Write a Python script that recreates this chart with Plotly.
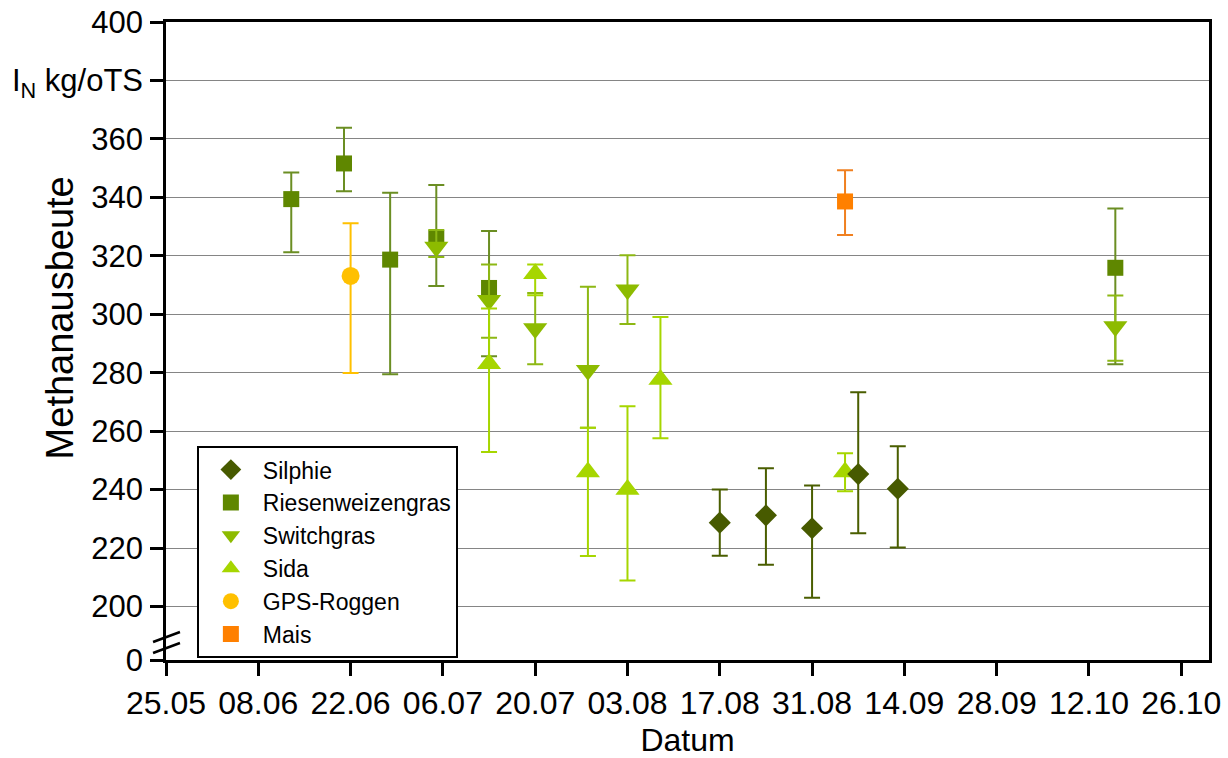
import plotly.graph_objects as go

# ---------------- data ----------------
YEAR = "2011"
BREAK_ZERO = 181.7  # axis position that carries the "0" label below the axis break

silphie_dates = ["08-17", "08-24", "08-31", "09-07", "09-13"]
silphie_val = [228.7, 231.2, 226.8, 245.3, 240.3]
silphie_hi = [240.0, 247.3, 241.4, 273.3, 254.8]
silphie_lo = [217.4, 214.3, 203.0, 225.1, 220.2]

riesen_dates = ["06-13", "06-21", "06-28", "07-05", "07-13", "10-16"]
riesen_val = [339.4, 351.6, 318.7, 326.0, 309.0, 315.9]
riesen_hi = [348.5, 363.8, 341.6, 344.2, 328.5, 336.2]
riesen_lo = [321.2, 342.1, 279.5, 309.7, 285.6, 282.9]

switch_dates = ["07-05", "07-13", "07-20", "07-28", "08-03", "10-16"]
switch_val = [323.0, 304.8, 295.1, 280.8, 308.4, 295.8]
switch_hi = [328.8, 317.0, 307.3, 309.4, 320.2, 306.4]
switch_lo = [319.6, 292.0, 282.9, 261.2, 296.7, 284.1]

sida_dates = ["07-13", "07-20", "07-28", "08-03", "08-08", "09-05"]
sida_val = [283.1, 313.9, 246.0, 240.0, 277.7, 246.0]
sida_hi = [302.0, 317.0, 261.2, 268.5, 299.1, 252.4]
sida_lo = [252.9, 306.5, 217.3, 208.9, 257.6, 239.4]

gps_dates = ["06-22"]
gps_val = [313.1]
gps_hi = [331.1]
gps_lo = [279.9]

mais_dates = ["09-05"]
mais_val = [338.6]
mais_hi = [349.3]
mais_lo = [327.1]

y_tick_vals = [BREAK_ZERO, 200, 220, 240, 260, 280, 300, 320, 340, 360, 380, 400]
y_tick_text = ["0", "200", "220", "240", "260", "280", "300", "320", "340", "360",
               "I<sub>N</sub> kg/oTS", "400"]

FONT = "Liberation Sans, Arial, sans-serif"


def d(lst):
    return [f"{YEAR}-{s}" for s in lst]


def trace(name, dates, val, hi, lo, symbol, size, color, ecolor, rank):
    return go.Scatter(
        x=d(dates), y=val, mode="markers", name=name, legendrank=rank,
        marker=dict(symbol=symbol, size=size, color=color, line=dict(width=0)),
        error_y=dict(type="data", symmetric=False,
                     array=[h - v for h, v in zip(hi, val)],
                     arrayminus=[v - l for v, l in zip(val, lo)],
                     color=ecolor, thickness=2, width=8),
    )


fig = go.Figure()
# drawing order (bottom -> top); legend order via legendrank
fig.add_trace(trace("Riesenweizengras", riesen_dates, riesen_val, riesen_hi, riesen_lo,
                    "square", 16, "#5F8700", "#6B8E23", 2))
fig.add_trace(trace("GPS-Roggen", gps_dates, gps_val, gps_hi, gps_lo,
                    "circle", 18, "#FFC000", "#FFC000", 5))
fig.add_trace(trace("Mais", mais_dates, mais_val, mais_hi, mais_lo,
                    "square", 16, "#FF8000", "#F08020", 6))
fig.add_trace(trace("Switchgras", switch_dates, switch_val, switch_hi, switch_lo,
                    "triangle-down", 21, "#8DBB00", "#8DB814", 3))
fig.add_trace(trace("Sida", sida_dates, sida_val, sida_hi, sida_lo,
                    "triangle-up", 21, "#A6D600", "#A6D600", 4))
fig.add_trace(trace("Silphie", silphie_dates, silphie_val, silphie_hi, silphie_lo,
                    "diamond", 17, "#475A00", "#4A5E00", 1))

fig.update_layout(
    width=1228, height=758,
    margin=dict(l=166, r=19, t=22, b=98, autoexpand=False),
    paper_bgcolor="white", plot_bgcolor="white",
    font=dict(family=FONT, color="black"),
    showlegend=True,
    legend=dict(
        x=0.0296, y=0.003, xanchor="left", yanchor="bottom",
        bgcolor="white", bordercolor="black", borderwidth=2,
        font=dict(size=23, family=FONT), itemsizing="trace",
        itemwidth=54, tracegroupgap=0,
    ),
    xaxis=dict(
        type="date", automargin=False,
        range=[f"{YEAR}-05-25", f"{YEAR}-10-30 05:00"],
        tick0=f"{YEAR}-05-25", dtick=14 * 86400000,
        tickformat="%d.%m",
        ticks="outside", ticklen=13, tickwidth=2.5, tickcolor="black",
        showline=True, linecolor="black", linewidth=2.5, mirror=True,
        showgrid=False, zeroline=False,
        tickfont=dict(size=32, family=FONT),
        title=dict(text="Datum", font=dict(size=32, family=FONT), standoff=10),
    ),
    yaxis=dict(
        automargin=False,
        range=[BREAK_ZERO, 400],
        tickmode="array", tickvals=y_tick_vals, ticktext=y_tick_text,
        ticks="outside", ticklen=13, tickwidth=2.5, tickcolor="black",
        showline=True, linecolor="black", linewidth=2.5, mirror=True,
        showgrid=True, gridcolor="#858585", gridwidth=1,
        zeroline=False,
        tickfont=dict(size=31, family=FONT),
        ticklabelstandoff=1,
    ),
    annotations=[
        dict(text="Methanausbeute", textangle=-90, xref="paper", yref="paper",
             x=-0.1013, y=0.536, xanchor="center", yanchor="middle",
             showarrow=False, font=dict(size=38, family=FONT)),
    ],
    shapes=[
        dict(type="line", xref="paper", yref="paper", x0=-0.0124, y0=0.0282,
             x1=0.0134, y1=0.0439, line=dict(color="black", width=2.5)),
        dict(type="line", xref="paper", yref="paper", x0=-0.0124, y0=0.0110,
             x1=0.0134, y1=0.0266, line=dict(color="black", width=2.5)),
    ],
)

fig.write_html("out.html")
